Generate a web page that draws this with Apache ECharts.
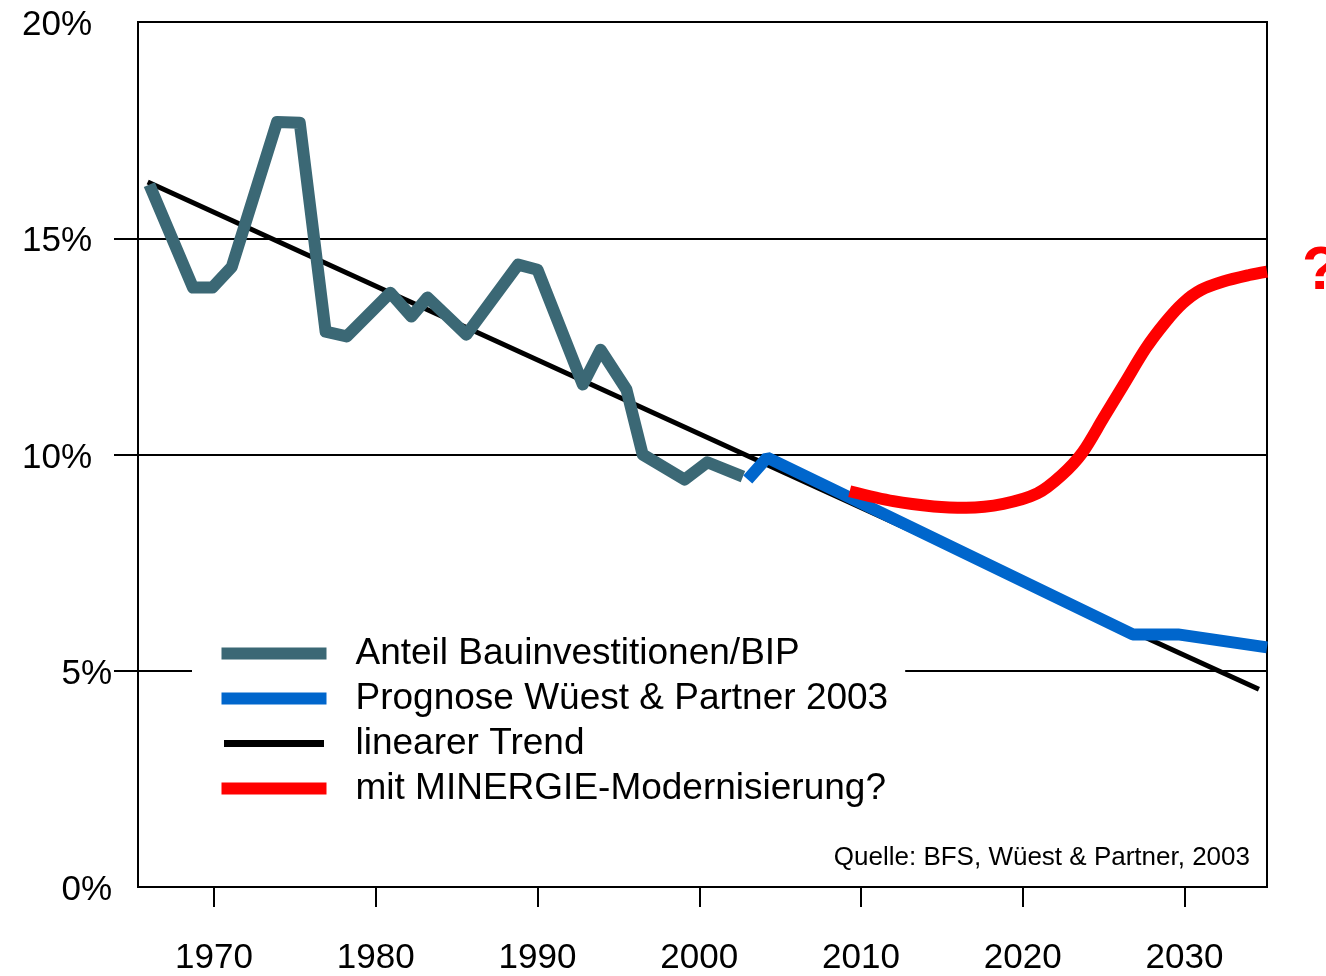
<!DOCTYPE html>
<html>
<head>
<meta charset="utf-8">
<script src="https://cdn.jsdelivr.net/npm/echarts@6/dist/echarts.min.js"></script>
<style>
  html, body { margin: 0; padding: 0; background: #fff; }
  #chart { width: 1326px; height: 976px; }
</style>
</head>
<body>
<div id="chart"></div>
<script>
// values: [year, share of GDP in %]
const anteilBip = [
    [1966.0, 16.24], [1968.7, 13.86], [1969.9, 13.86], [1971.1, 14.34], [1973.9, 17.69],
    [1975.3, 17.67], [1976.9, 12.84], [1978.2, 12.73], [1980.9, 13.74], [1982.2, 13.19],
    [1983.2, 13.63], [1985.6, 12.77], [1988.8, 14.39], [1990.0, 14.27], [1992.8, 11.62],
    [1993.9, 12.42], [1995.5, 11.50], [1996.5, 10.00], [1999.1, 9.42], [2000.5, 9.82],
    [2002.7, 9.49]
];
const prognose = [
    [2003.0, 9.42], [2004.2, 9.93], [2026.8, 5.84], [2029.6, 5.84], [2035.1, 5.54]
];
const trend = [
    [1965.9, 16.30], [2034.6, 4.57]
];
const minergie = [
    [2009.3, 9.15], [2012.0, 8.92], [2014.5, 8.80], [2016.5, 8.77], [2018.8, 8.86],
    [2020.9, 9.10], [2022.4, 9.52], [2023.7, 10.05], [2025.0, 10.85], [2026.3, 11.65],
    [2027.6, 12.45], [2028.8, 13.05], [2029.9, 13.50], [2031.0, 13.80], [2032.4, 14.00],
    [2034.0, 14.15], [2035.1, 14.23]
];
const yearTicks = [1970, 1980, 1990, 2000, 2010, 2020, 2030];
const pctTicks = [5, 10, 15];
const names = [
    'Anteil Bauinvestitionen/BIP',
    'Prognose Wüest & Partner 2003',
    'linearer Trend',
    'mit MINERGIE-Modernisierung?'
];
const quelle = 'Quelle: BFS, Wüest & Partner, 2003';

const FONT = '"Liberation Sans", Arial, sans-serif';
const colors = { gray: '#3b6875', blue: '#0066cc', black: '#000000', red: '#ff0000' };

const chart = echarts.init(document.getElementById('chart'));

const option = {
    animation: false,
    backgroundColor: '#fff',
    grid: {
        left: 138, right: 59, top: 22, bottom: 88,
        show: true, borderColor: '#000', borderWidth: 2, backgroundColor: 'transparent'
    },
    xAxis: {
        type: 'value',
        min: 1965.3,
        max: 2035.1,
        axisLine: { show: true, lineStyle: { color: '#000', width: 2 } },
        axisTick: {
            show: true, customValues: yearTicks, length: 20, inside: false,
            lineStyle: { color: '#000', width: 2 }
        },
        axisLabel: {
            customValues: yearTicks, margin: 54,
            color: '#000', fontSize: 35, fontFamily: FONT,
            formatter: v => String(v)
        },
        splitLine: { show: false }
    },
    yAxis: {
        type: 'value',
        min: 0, max: 20, interval: 5,
        axisLine: { show: false },
        axisTick: {
            show: true, customValues: pctTicks, length: 24, inside: false,
            lineStyle: { color: '#000', width: 2 }
        },
        axisLabel: {
            margin: 26,
            color: '#000', fontSize: 35, fontFamily: FONT,
            formatter: v => (v <= 5 ? '{b|' + v + '%}' : '{a|' + v + '%}'),
            rich: {
                a: { fontSize: 35, fontFamily: FONT, color: '#000', padding: [7, 20, 0, 0] },
                b: { fontSize: 35, fontFamily: FONT, color: '#000', padding: [7, 0, 0, 0] }
            }
        },
        splitLine: { show: true, lineStyle: { color: '#000', width: 2 } }
    },
    legend: {
        left: 192, top: 625,
        orient: 'vertical',
        selectedMode: false,
        backgroundColor: '#fff',
        padding: [10, 17, 10, 27],
        itemWidth: 105, itemHeight: 12, itemGap: 8,
        icon: 'rect',
        textStyle: {
            color: '#000', fontSize: 37, fontFamily: FONT, lineHeight: 37,
            padding: [0, 0, 0, 24]
        },
        data: [
            { name: names[0] },
            { name: names[1] },
            { name: names[2], itemStyle: { borderColor: '#fff', borderWidth: 5 } },
            { name: names[3] }
        ]
    },
    graphic: [{
        type: 'text',
        x: 1250, y: 858, z: 100,
        style: {
            text: quelle, align: 'right', verticalAlign: 'middle',
            fill: '#000', fontSize: 26, fontFamily: FONT
        }
    }],
    series: [
        {
            name: names[2], type: 'line', data: trend, z: 2,
            symbol: 'none', color: colors.black,
            lineStyle: { color: colors.black, width: 5 }
        },
        {
            name: names[0], type: 'line', data: anteilBip, z: 3,
            symbol: 'none', color: colors.gray,
            lineStyle: { color: colors.gray, width: 12, join: 'round' }
        },
        {
            name: names[1], type: 'line', data: prognose, z: 4,
            symbol: 'none', color: colors.blue,
            lineStyle: { color: colors.blue, width: 12 }
        },
        {
            name: names[3], type: 'line', data: minergie, z: 5,
            symbol: 'none', smooth: 0.3, color: colors.red,
            lineStyle: { color: colors.red, width: 12 },
            endLabel: {
                show: true, formatter: '?', distance: 35,
                color: colors.red, fontSize: 62, fontWeight: 'bold', fontFamily: FONT
            }
        }
    ]
};

chart.setOption(option);
</script>
</body>
</html>
